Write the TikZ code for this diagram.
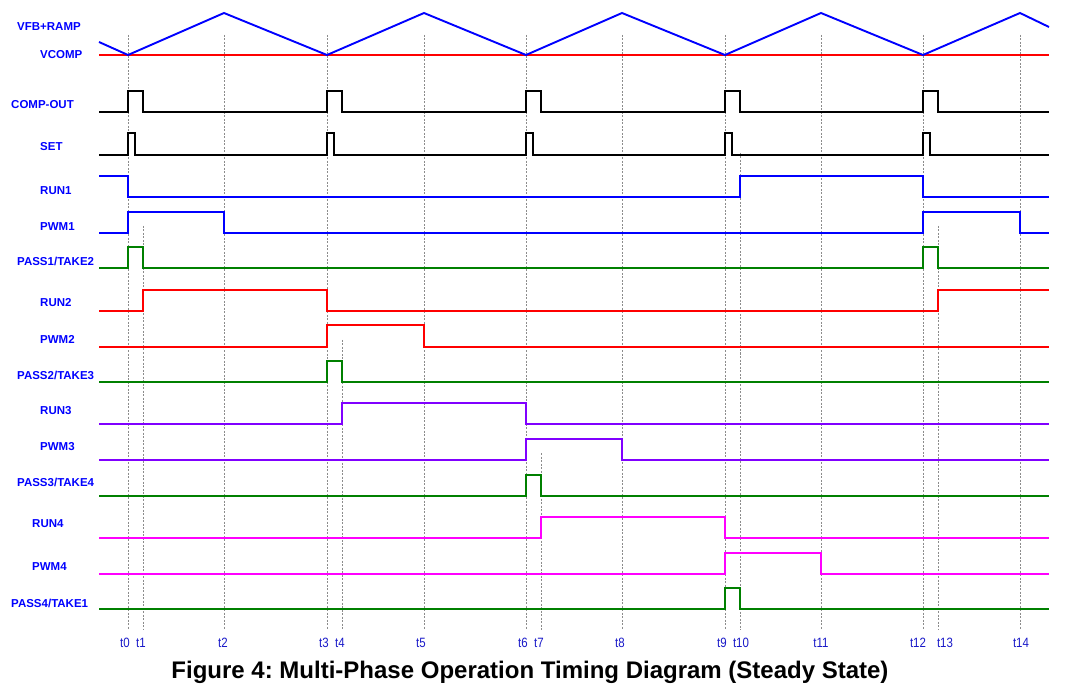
\documentclass[tikz,border=0pt]{standalone}
\usepackage{fontspec}
\setmainfont{Liberation Sans}
\frenchspacing
\definecolor{sigblue}{RGB}{0,0,255}
\definecolor{sigred}{RGB}{255,0,0}
\definecolor{siggreen}{RGB}{0,128,0}
\definecolor{sigviolet}{RGB}{128,0,255}
\definecolor{sigmagenta}{RGB}{255,0,255}
\definecolor{tickblue}{RGB}{25,25,200}
\tikzset{
  wave/.style={line width=1.9pt, line join=miter},
  sig label/.style={anchor=west, text=sigblue, inner sep=0pt, font=\fontsize{11.5}{13}\selectfont\bfseries},
  time label/.style={text=tickblue, inner sep=0pt, font=\fontsize{13.5}{15}\selectfont},
  guide/.style={gray!90, line width=0.6pt, dash pattern=on 2pt off 1.5pt},
}
\begin{document}
\begin{tikzpicture}[x=1pt, y=-1pt]
\useasboundingbox (0,0) rectangle (1080,695);
% time guides
\foreach \x/\top in {128/35, 143/226, 224/35, 327/35, 342/340, 424/35, 526/35, 541/453, 622/35, 725/35, 740/153, 821/35, 923/35, 938/226, 1020/35}
  \draw[guide] (\x,\top) -- (\x,630);
\foreach \x/\lbl in {125/t0, 141/t1, 223/t2, 324/t3, 340/t4, 421/t5, 523/t6, 539/t7, 620/t8, 722/t9, 741/t10, 821/t11, 918/t12, 945/t13, 1021/t14}
  \node[time label] (\lbl) at (\x,643) {\scalebox{0.85}[1]{\lbl}};
% signal names
\node[sig label] (vfb) at (17,27) {VFB+RAMP};
\node[sig label] (vcomp) at (40,55) {VCOMP};
\node[sig label] (compout) at (11,105) {COMP-OUT};
\node[sig label] (set) at (40,147) {SET};
\node[sig label] (run1) at (40,191) {RUN1};
\node[sig label] (pwm1) at (40,227) {PWM1};
\node[sig label] (pass1) at (17,261) {PASS1/TAKE2};
\node[sig label] (run2) at (40,303) {RUN2};
\node[sig label] (pwm2) at (40,339) {PWM2};
\node[sig label] (pass2) at (17,375) {PASS2/TAKE3};
\node[sig label] (run3) at (40,411) {RUN3};
\node[sig label] (pwm3) at (40,447) {PWM3};
\node[sig label] (pass3) at (17,482) {PASS3/TAKE4};
\node[sig label] (run4) at (32,524) {RUN4};
\node[sig label] (pwm4) at (32,567) {PWM4};
\node[sig label] (pass4) at (11,603) {PASS4/TAKE1};
% ramp and comparator
\draw[wave, sigred] (99,55) -- (1049,55);
\draw[wave, sigblue] (99,42) -- (128,55) -- (224,13) -- (327,55) -- (424,13) -- (526,55) -- (622,13) -- (725,55) -- (821,13) -- (923,55) -- (1020,13) -- (1049,27);
\draw[wave] (99,112) foreach \x in {128,327,526,725,923} { -- (\x,112) -- (\x,91) -- (\x+15,91) -- (\x+15,112) } -- (1049,112);
\draw[wave] (99,155) foreach \x in {128,327,526,725,923} { -- (\x,155) -- (\x,133) -- (\x+7,133) -- (\x+7,155) } -- (1049,155);
% phase 1
\draw[wave, sigblue] (99,176) -- (128,176) -- (128,197) -- (740,197) -- (740,176) -- (923,176) -- (923,197) -- (1049,197);
\draw[wave, sigblue] (99,233) -- (128,233) -- (128,212) -- (224,212) -- (224,233) -- (923,233) -- (923,212) -- (1020,212) -- (1020,233) -- (1049,233);
\draw[wave, siggreen] (99,268) -- (128,268) -- (128,247) -- (143,247) -- (143,268) -- (923,268) -- (923,247) -- (938,247) -- (938,268) -- (1049,268);
% phase 2
\draw[wave, sigred] (99,311) -- (143,311) -- (143,290) -- (327,290) -- (327,311) -- (938,311) -- (938,290) -- (1049,290);
\draw[wave, sigred] (99,347) -- (327,347) -- (327,325) -- (424,325) -- (424,347) -- (1049,347);
\draw[wave, siggreen] (99,382) -- (327,382) -- (327,361) -- (342,361) -- (342,382) -- (1049,382);
% phase 3
\draw[wave, sigviolet] (99,424) -- (342,424) -- (342,403) -- (526,403) -- (526,424) -- (1049,424);
\draw[wave, sigviolet] (99,460) -- (526,460) -- (526,439) -- (622,439) -- (622,460) -- (1049,460);
\draw[wave, siggreen] (99,496) -- (526,496) -- (526,475) -- (541,475) -- (541,496) -- (1049,496);
% phase 4
\draw[wave, sigmagenta] (99,538) -- (541,538) -- (541,517) -- (725,517) -- (725,538) -- (1049,538);
\draw[wave, sigmagenta] (99,574) -- (725,574) -- (725,553) -- (821,553) -- (821,574) -- (1049,574);
\draw[wave, siggreen] (99,609) -- (725,609) -- (725,588) -- (740,588) -- (740,609) -- (1049,609);
\node[font=\fontsize{24}{28}\selectfont\bfseries] (title) at (530,672) {Figure 4: Multi-Phase Operation Timing Diagram (Steady State)};
\end{tikzpicture}
\end{document}
